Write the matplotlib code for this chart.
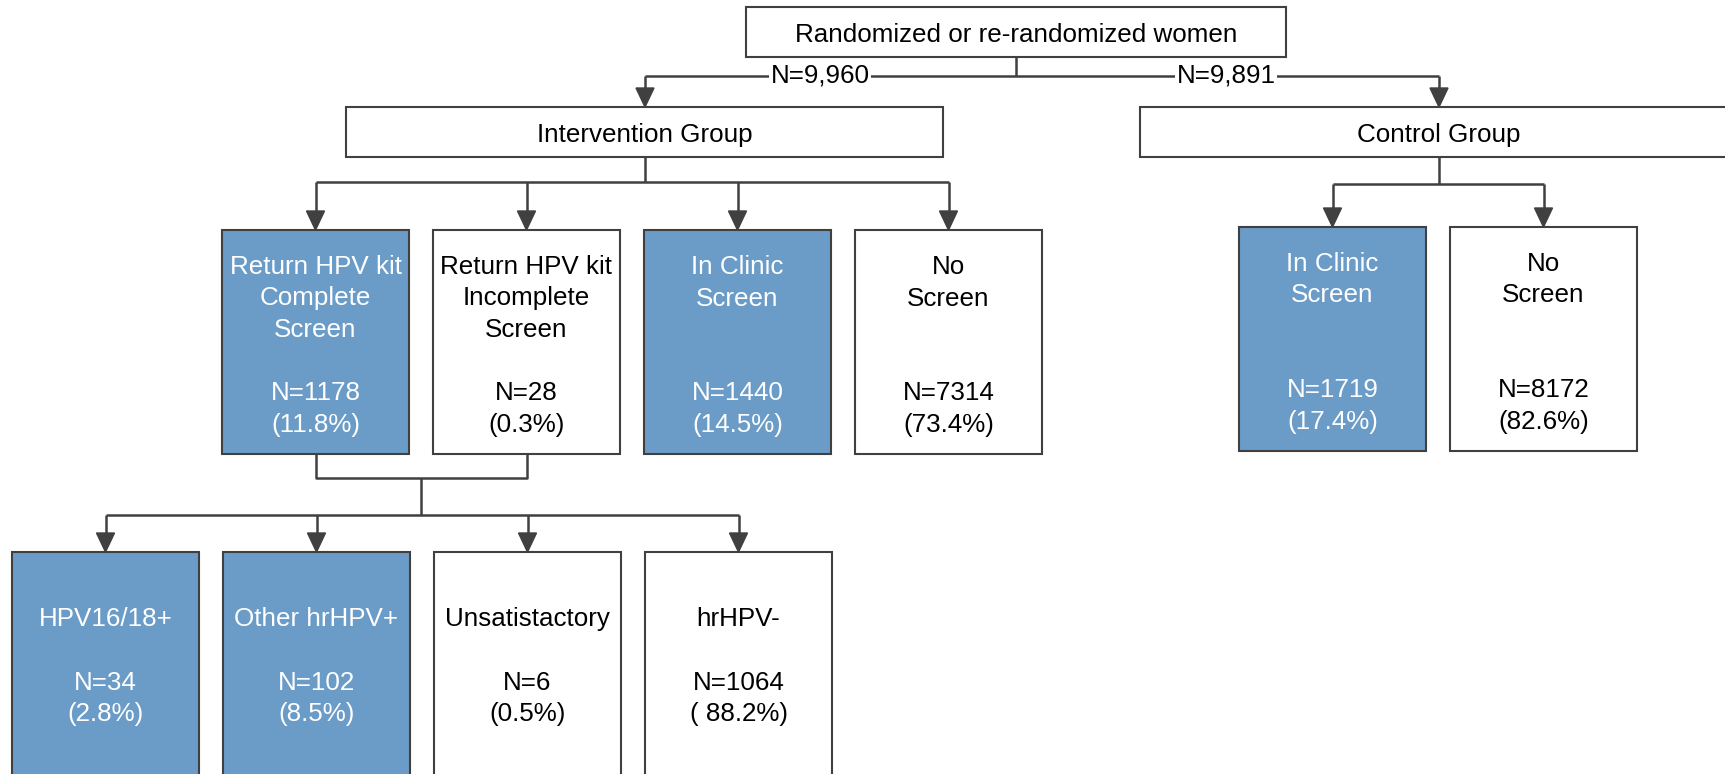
import matplotlib.pyplot as plt
from matplotlib.patches import Rectangle, Polygon

# ---- data ----
top_label = "Randomized or re-randomized women"
arm_labels = ["Intervention Group", "Control Group"]
arm_n = ["9,960", "9,891"]

screen_labels = ["Return HPV kit\nComplete\nScreen", "Return HPV kit\nIncomplete\nScreen",
                 "In Clinic\nScreen", "No\nScreen"]
screen_n = ["1178", "28", "1440", "7314"]
screen_pct = ["11.8%", "0.3%", "14.5%", "73.4%"]
screen_fill = [True, False, True, False]

control_labels = ["In Clinic\nScreen", "No\nScreen"]
control_n = ["1719", "8172"]
control_pct = ["17.4%", "82.6%"]
control_fill = [True, False]

hpv_labels = ["HPV16/18+", "Other hrHPV+", "Unsatistactory", "hrHPV-"]
hpv_n = ["34", "102", "6", "1064"]
hpv_pct = ["2.8%", "8.5%", "0.5%", " 88.2%"]
hpv_fill = [True, True, False, False]

# ---- style ----
BLUE = "#6a9cc7"
EDGE = "#404040"
LINE = "#404040"
FS = 18.7
DY = 3  # text sits a little low in the original
plt.rcParams['font.family'] = ['Liberation Sans', 'DejaVu Sans']

W, H = 1725, 774
fig = plt.figure(figsize=(W / 100, H / 100), dpi=100)
ax = fig.add_axes([0, 0, 1, 1])
ax.set_xlim(0, W)
ax.set_ylim(H, 0)
ax.axis('off')


def box(x0, y0, w, h, fill=False):
    ax.add_patch(Rectangle((x0, y0), w, h, facecolor=BLUE if fill else 'white',
                           edgecolor=EDGE, linewidth=1.5, zorder=2))


def seg(xs, ys):
    ax.plot(xs, ys, color=LINE, linewidth=1.8, solid_capstyle='butt', zorder=1)


def arrow(x, y0, y1):
    # vertical line with a filled head that touches y1
    seg([x, x], [y0, y1 - 15])
    ax.add_patch(Polygon([(x - 9, y1 - 19), (x + 9, y1 - 19), (x, y1)],
                         closed=True, color=LINE, zorder=3))


def txt(x, y, s, fill=False, **kw):
    ax.text(x, y + DY, s, ha='center', va='center', fontsize=FS,
            color='white' if fill else 'black', zorder=4, **kw)


# top box
tb = (746, 7, 540, 50)
box(*tb)
txt(tb[0] + tb[2] / 2, 32, top_label)

# arms
arm_boxes = [(346, 107, 597, 50), (1140, 107, 598, 50)]
arm_cx = [645, 1439]
top_cx = tb[0] + tb[2] / 2
seg([top_cx, top_cx], [57, 76])
seg([arm_cx[0], arm_cx[1]], [76, 76])
for cx, (bx, by, bw, bh), lab in zip(arm_cx, arm_boxes, arm_labels):
    arrow(cx, 76, by)
    box(bx, by, bw, bh)
    txt(cx, by + 25, lab)
white_bg = dict(facecolor='white', edgecolor='none', pad=1)
ax.text(820, 76, "N=" + arm_n[0], ha='center', va='center', fontsize=FS, bbox=white_bg, zorder=4)
ax.text(1226, 76, "N=" + arm_n[1], ha='center', va='center', fontsize=FS, bbox=white_bg, zorder=4)

BW = 187
PITCH = 211


def screen_row(lefts, top, height, labels, ns, pcts, fills, hline_y, stem_x, stem_y0):
    cxs = [l + BW / 2 for l in lefts]
    seg([stem_x, stem_x], [stem_y0, hline_y])
    seg([cxs[0], cxs[-1]], [hline_y, hline_y])
    for l, cx, lab, n, p, f in zip(lefts, cxs, labels, ns, pcts, fills):
        arrow(cx, hline_y, top)
        box(l, top, BW, height, f)
        for i, line in enumerate(lab.split("\n")):
            txt(cx, top + 34 + 31.5 * i, line, f)
        txt(cx, top + 160, "N=" + n, f)
        txt(cx, top + 192, "(" + p + ")", f)
    return cxs


# intervention screening row
int_lefts = [222 + PITCH * i for i in range(len(screen_labels))]
int_cx = screen_row(int_lefts, 230, 224, screen_labels, screen_n, screen_pct,
                    screen_fill, 182, arm_cx[0], 157)

# control screening row
ctl_lefts = [1239 + PITCH * i for i in range(len(control_labels))]
screen_row(ctl_lefts, 227, 224, control_labels, control_n, control_pct,
           control_fill, 184, arm_cx[1], 157)

# merge of the two HPV-kit boxes
seg([int_cx[0], int_cx[0], int_cx[1], int_cx[1]], [454, 478, 478, 454])
mid = (int_cx[0] + int_cx[1]) / 2

# HPV result row
hpv_lefts = [12 + PITCH * i for i in range(len(hpv_labels))]
hpv_cx = [l + BW / 2 for l in hpv_lefts]
seg([mid, mid], [478, 515])
seg([hpv_cx[0], hpv_cx[-1]], [515, 515])
for l, cx, lab, n, p, f in zip(hpv_lefts, hpv_cx, hpv_labels, hpv_n, hpv_pct, hpv_fill):
    arrow(cx, 515, 552)
    box(l, 552, BW, 260, f)
    txt(cx, 616, lab, f)
    txt(cx, 680, "N=" + n, f)
    txt(cx, 711, "(" + p + ")", f)

fig.savefig("out.png", dpi=100)
